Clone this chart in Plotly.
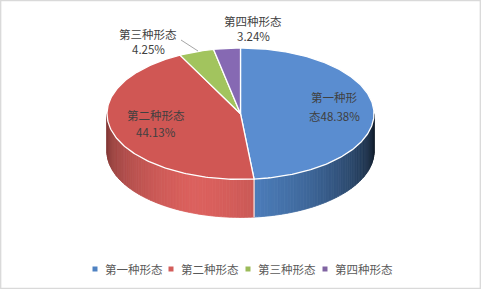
import math
import plotly.graph_objects as go

# ---- data ----
categories = ["第一种形态", "第二种形态", "第三种形态", "第四种形态"]
shares = [48.38, 44.13, 4.25, 3.24]
top_colors = ["#5A8DD0", "#D05754", "#A2C45E", "#8669B3"]
side_colors = ["#4F82C2", "#D35D5A", "#9BBB59", "#8064A2"]

W, H = 482, 290
CX, CY, RX, RY, DEPTH = 240.5, 113.7, 133.5, 65.7, 38.0


def pt(theta_deg, dy=0.0):
    t = math.radians(theta_deg)
    return CX + RX * math.sin(t), CY - RY * math.cos(t) + dy


def hex_scale(hx, f):
    r, g, b = int(hx[1:3], 16), int(hx[3:5], 16), int(hx[5:7], 16)
    c = [max(0, min(255, int(round(v * f)))) for v in (r, g, b)]
    return "rgb(%d,%d,%d)" % tuple(c)


def shade(theta):
    if theta < 200:
        return 1.04 - 0.88 * ((200 - theta) / 110.0) ** 1.6
    return 1.04 - 0.42 * ((theta - 200) / 70.0) ** 1.3


fig = go.Figure()

total = sum(shares)
bounds = []
acc = 0.0
for s in shares:
    a0 = acc / total * 360.0
    acc += s
    a1 = acc / total * 360.0
    bounds.append((a0, a1))

# side faces (visible front half), drawn as thin shaded strips
for i, (a0, a1) in enumerate(bounds):
    s0, s1 = max(a0, 90.0), min(a1, 270.0)
    if s1 <= s0:
        continue
    n = max(1, int(math.ceil((s1 - s0) / 1.5)))
    for k in range(n):
        t0 = s0 + (s1 - s0) * k / n
        t1 = s0 + (s1 - s0) * (k + 1) / n
        ts = [t0 + (t1 - t0) * j / 3 for j in range(4)]
        xs, ys = [], []
        for t in ts:
            x, y = pt(t)
            xs.append(x); ys.append(y)
        for t in reversed(ts):
            x, y = pt(t, DEPTH)
            xs.append(x); ys.append(y)
        col = hex_scale(side_colors[i], shade((t0 + t1) / 2))
        fig.add_trace(go.Scatter(x=xs + [xs[0]], y=ys + [ys[0]], mode="lines",
                                 fill="toself", fillcolor=col,
                                 line=dict(color=col, width=0.8),
                                 hoverinfo="skip", showlegend=False))

# seams on the side face where slice boundaries are in front
for a0, a1 in bounds:
    for a in (a0,):
        if 90.0 < a < 270.0:
            x0, y0 = pt(a)
            x1, y1 = pt(a, DEPTH)
            fig.add_trace(go.Scatter(x=[x0, x1], y=[y0, y1], mode="lines",
                                     line=dict(color="rgba(255,255,255,0.85)", width=1.2),
                                     hoverinfo="skip", showlegend=False))

# top faces
for i, (a0, a1) in enumerate(bounds):
    n = max(2, int(math.ceil(a1 - a0)))
    xs, ys = [CX], [CY]
    for j in range(n + 1):
        x, y = pt(a0 + (a1 - a0) * j / n)
        xs.append(x); ys.append(y)
    xs.append(CX); ys.append(CY)
    fig.add_trace(go.Scatter(x=xs, y=ys, mode="lines", fill="toself",
                             fillcolor=top_colors[i],
                             line=dict(color="white", width=1.3),
                             hoverinfo="skip", showlegend=False))

# data labels
lab_font = dict(family="Noto Sans CJK SC", size=11.5, color="#404040")
label_lines = [
    [(334, 97, categories[0][:4]), (334, 116, categories[0][4:] + "%.2f%%" % shares[0])],
    [(156, 115, categories[1]), (156, 132, "%.2f%%" % shares[1])],
    [(148, 34, categories[2]), (148, 49, "%.2f%%" % shares[2])],
    [(253, 21, categories[3]), (253, 36, "%.2f%%" % shares[3])],
]
for lines in label_lines:
    for x, y, t in lines:
        fig.add_annotation(x=x, y=y, text=t, showarrow=False, font=lab_font,
                           xanchor="center", yanchor="middle")

# leader line for third label
fig.add_shape(type="line", x0=181, y0=40, x1=198, y1=51,
              line=dict(color="#A6A6A6", width=1))

# legend (squares + text)
leg_font = dict(family="Noto Sans CJK SC", size=11.5, color="#595959")
leg_sq_x = [95, 171, 248, 325]
fig.add_trace(go.Scatter(x=leg_sq_x, y=[269] * 4, mode="markers",
                         marker=dict(symbol="square", size=5, color=side_colors,
                                     line=dict(width=0)),
                         hoverinfo="skip", showlegend=False))
for x, c in zip(leg_sq_x, categories):
    fig.add_annotation(x=x + 8, y=269, text=c, showarrow=False, font=leg_font,
                       xanchor="left", yanchor="middle")

# chart border
fig.add_shape(type="rect", x0=0.7, y0=0.7, x1=480.3, y1=288.3,
              line=dict(color="#D9D9D9", width=1.3))

fig.update_layout(
    width=W, height=H, margin=dict(l=0, r=0, t=0, b=0),
    paper_bgcolor="white", plot_bgcolor="white",
    xaxis=dict(range=[0, W], visible=False, fixedrange=True),
    yaxis=dict(range=[H, 0], visible=False, fixedrange=True),
    hovermode=False, showlegend=False,
)

fig.write_html("out.html")
